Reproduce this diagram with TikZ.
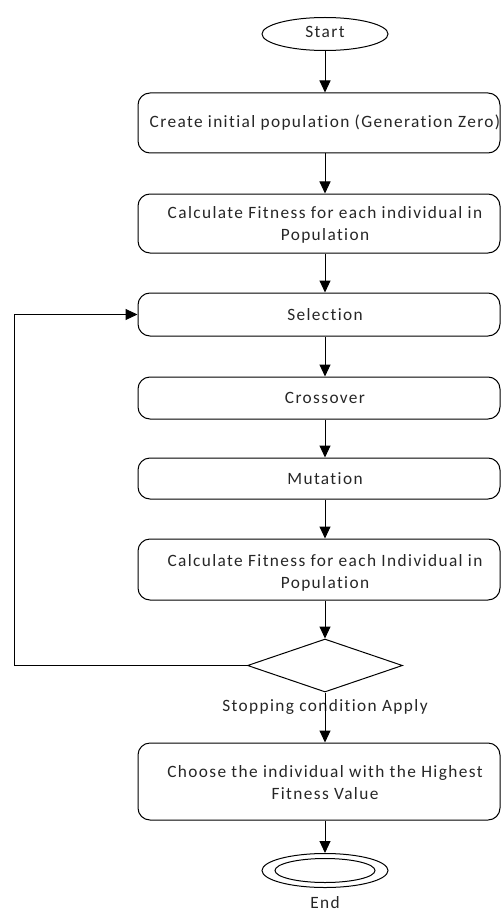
\documentclass[tikz,border=0pt]{standalone}
\usepackage{fontspec}
\setmainfont{Carlito}[LetterSpace=8,Ligatures=NoCommon]
\usetikzlibrary{arrows.meta,shapes.geometric}
\begin{document}
\begin{tikzpicture}[x=1pt,y=-1pt,
  every node/.style={font=\fontsize{17.3}{22}\selectfont, text=black!85},
  boxshape/.style={draw, line width=1pt, rounded corners=12pt, minimum width=362pt, inner sep=0pt},
  txt/.style={align=center, inner sep=0pt},
  term/.style={draw, line width=1pt, ellipse, inner sep=0pt},
  arr/.style={draw, line width=1pt, -{Triangle[length=12pt,width=11pt]}}
]
\useasboundingbox (0,0) rectangle (501,912);
% terminals
\node[term, minimum width=126pt, minimum height=33pt] (start) at (325,34) {};
\node[txt] (starttxt) at (325,32) {Start};
% boxes
\node[boxshape, minimum height=60pt] (b1) at (319,123) {};
\node[txt] (t1) at (325,123) {Create initial population (Generation Zero)};
\node[boxshape, minimum height=59pt] (b2) at (319,223.5) {};
\node[txt] (t2) at (325,225) {Calculate Fitness for each individual in\\Population};
\node[boxshape, minimum height=43pt] (sel) at (319,314.5) {};
\node[txt] (t3) at (325,314.5) {Selection};
\node[boxshape, minimum height=42pt] (cross) at (319,398) {};
\node[txt] (t4) at (325,398) {Crossover};
\node[boxshape, minimum height=41pt] (mut) at (319,478.5) {};
\node[txt] (t5) at (325,478.5) {Mutation};
\node[boxshape, minimum height=61pt] (b3) at (319,569.5) {};
\node[txt] (t6) at (325,573) {Calculate Fitness for each Individual in\\Population};
% decision
\node[draw, line width=1pt, diamond, aspect=2.9, minimum width=155pt, minimum height=53pt, inner sep=0pt] (dia) at (325,665.5) {};
\node[txt] (stoptxt) at (325,707) {Stopping condition Apply};
% final
\node[boxshape, minimum height=77pt] (fin) at (319,781.5) {};
\node[txt] (t7) at (325,783) {Choose the individual with the Highest\\Fitness Value};
\node[term, minimum width=126pt, minimum height=34pt] (endo) at (325,870.5) {};
\node[term, minimum width=100pt, minimum height=24pt] (endi) at (325,870.5) {};
\node[txt] (endtxt) at (325,903) {End};
\coordinate (fb) at (14,665.5);
% connectors
\draw[arr] (start.south) -- (start.south |- b1.north);
\draw[arr] (start.south |- b1.south) -- (start.south |- b2.north);
\draw[arr] (start.south |- b2.south) -- (start.south |- sel.north);
\draw[arr] (start.south |- sel.south) -- (start.south |- cross.north);
\draw[arr] (start.south |- cross.south) -- (start.south |- mut.north);
\draw[arr] (start.south |- mut.south) -- (start.south |- b3.north);
\draw[arr] (start.south |- b3.south) -- (dia.north);
\draw[arr] (dia.south) -- (dia.south |- fin.north);
\draw[arr] (start.south |- fin.south) -- (endo.north);
\draw[arr] (dia.west) -- (fb) |- (sel.west);
\end{tikzpicture}
\end{document}
